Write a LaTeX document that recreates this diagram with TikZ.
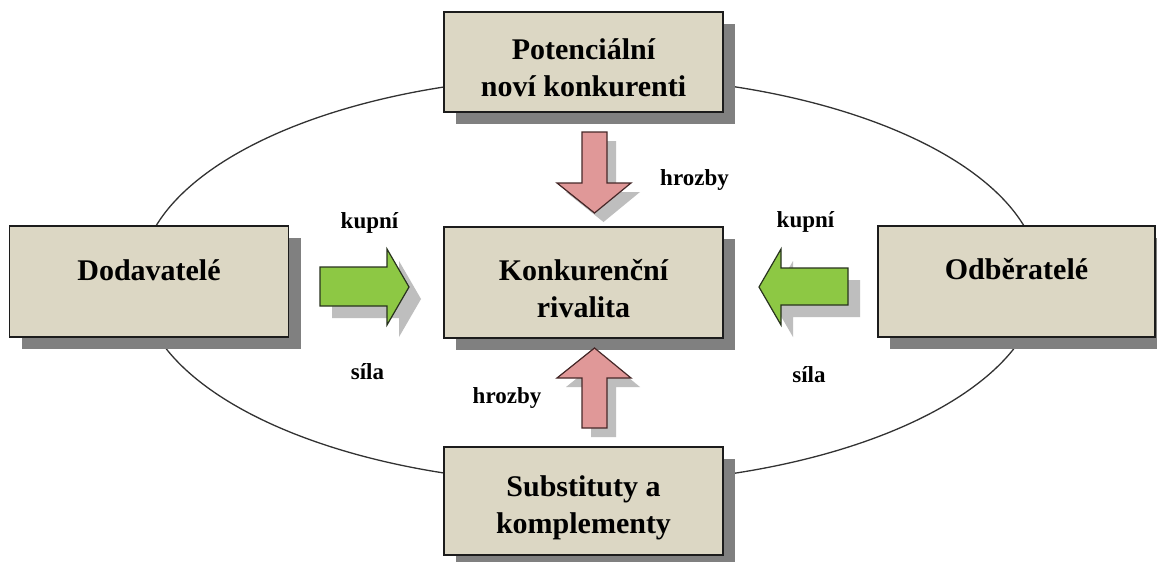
\documentclass[tikz,border=0pt]{standalone}
\usepackage{fontspec}
\setmainfont{Liberation Serif}
\usetikzlibrary{shadows}
\definecolor{boxfill}{RGB}{220,215,196}
\definecolor{boxline}{RGB}{28,28,28}
\definecolor{shadowgray}{RGB}{128,128,128}
\definecolor{arrowshadow}{RGB}{190,190,190}
\definecolor{greenfill}{RGB}{141,200,68}
\definecolor{greenline}{RGB}{40,50,30}
\definecolor{pinkfill}{RGB}{224,152,152}
\definecolor{pinkline}{RGB}{70,40,40}
\definecolor{ellline}{RGB}{50,50,50}
\newcommand{\boxtxt}[3]{\raisebox{0pt}[#1pt][#2pt]{\begin{tabular}[t]{@{}c@{}}#3\end{tabular}}}
\tikzset{
  forcebox/.style={draw=boxline, line width=1.8pt, fill=boxfill, rectangle,
    minimum width=279pt, inner sep=0pt, align=center,
    font=\fontsize{30}{37}\selectfont\bfseries,
    drop shadow={shadow xshift=12pt, shadow yshift=-12pt, fill=shadowgray, opacity=1}},
  lbl/.style={anchor=base, inner sep=0pt, font=\fontsize{23}{27}\selectfont\bfseries},
  greenarrow/.style={fill=greenfill, draw=greenline, line width=1.2pt, line join=miter},
  pinkarrow/.style={fill=pinkfill, draw=pinkline, line width=1.2pt, line join=miter},
  arrowshade/.style={fill=arrowshadow, draw=none}
}
\begin{document}
\begin{tikzpicture}[x=1pt, y=-1pt]
\useasboundingbox[fill=white] (0,0) rectangle (1157,562);
% ellipse
\draw[ellline, line width=1.3pt] (590,280) ellipse [x radius=450, y radius=204];
% boxes
\node[forcebox, minimum height=100pt] (pot) at (583.5,62) {\boxtxt{20}{26}{Potenciální\\noví konkurenti}};
\node[forcebox, minimum height=111pt] (dod) at (149,281.5) {\boxtxt{20}{23}{Dodavatelé}};
\node[forcebox, minimum height=111pt] (kon) at (583.5,282.5) {\boxtxt{20}{25}{Konkurenční\\rivalita}};
\node[forcebox, minimum height=108pt] (sub) at (583.5,501) {\boxtxt{20}{30}{Substituty a\\komplementy}};
\node[forcebox, minimum width=277pt, minimum height=111pt] (odb) at (1016.5,281.5) {\boxtxt{20}{25}{Odběratelé}};
% green arrows (shadows then arrows)
\begin{scope}[shift={(12,12)}]
  \fill[arrowshade] (320,267) -- (387,267) -- (387,249) -- (409,287) -- (387,325) -- (387,306) -- (320,306) -- cycle;
  \fill[arrowshade] (848,268) -- (781,268) -- (781,249) -- (759,287) -- (781,325) -- (781,305) -- (848,305) -- cycle;
\end{scope}
\draw[greenarrow] (320,267) -- (387,267) -- (387,249) -- (409,287) -- (387,325) -- (387,306) -- (320,306) -- cycle;
\draw[greenarrow] (848,268) -- (781,268) -- (781,249) -- (759,287) -- (781,325) -- (781,305) -- (848,305) -- cycle;
% pink arrows
\begin{scope}[shift={(9,9)}]
  \fill[arrowshade] (582,132) -- (607,132) -- (607,183) -- (631,183) -- (594.5,213) -- (557,183) -- (582,183) -- cycle;
  \fill[arrowshade] (594.5,348) -- (631,378) -- (607,378) -- (607,428) -- (582,428) -- (582,378) -- (557,378) -- cycle;
\end{scope}
\draw[pinkarrow] (582,132) -- (607,132) -- (607,183) -- (631,183) -- (594.5,213) -- (557,183) -- (582,183) -- cycle;
\draw[pinkarrow] (594.5,348) -- (631,378) -- (607,378) -- (607,428) -- (582,428) -- (582,378) -- (557,378) -- cycle;
% labels
\node[lbl] (l1) at (694.5,185) {hrozby};
\node[lbl] (l2) at (369.5,228) {kupní};
\node[lbl] (l3) at (805.5,227) {kupní};
\node[lbl] (l4) at (367.5,379) {síla};
\node[lbl] (l5) at (507,403) {hrozby};
\node[lbl] (l6) at (809,382) {síla};
\end{tikzpicture}
\end{document}
